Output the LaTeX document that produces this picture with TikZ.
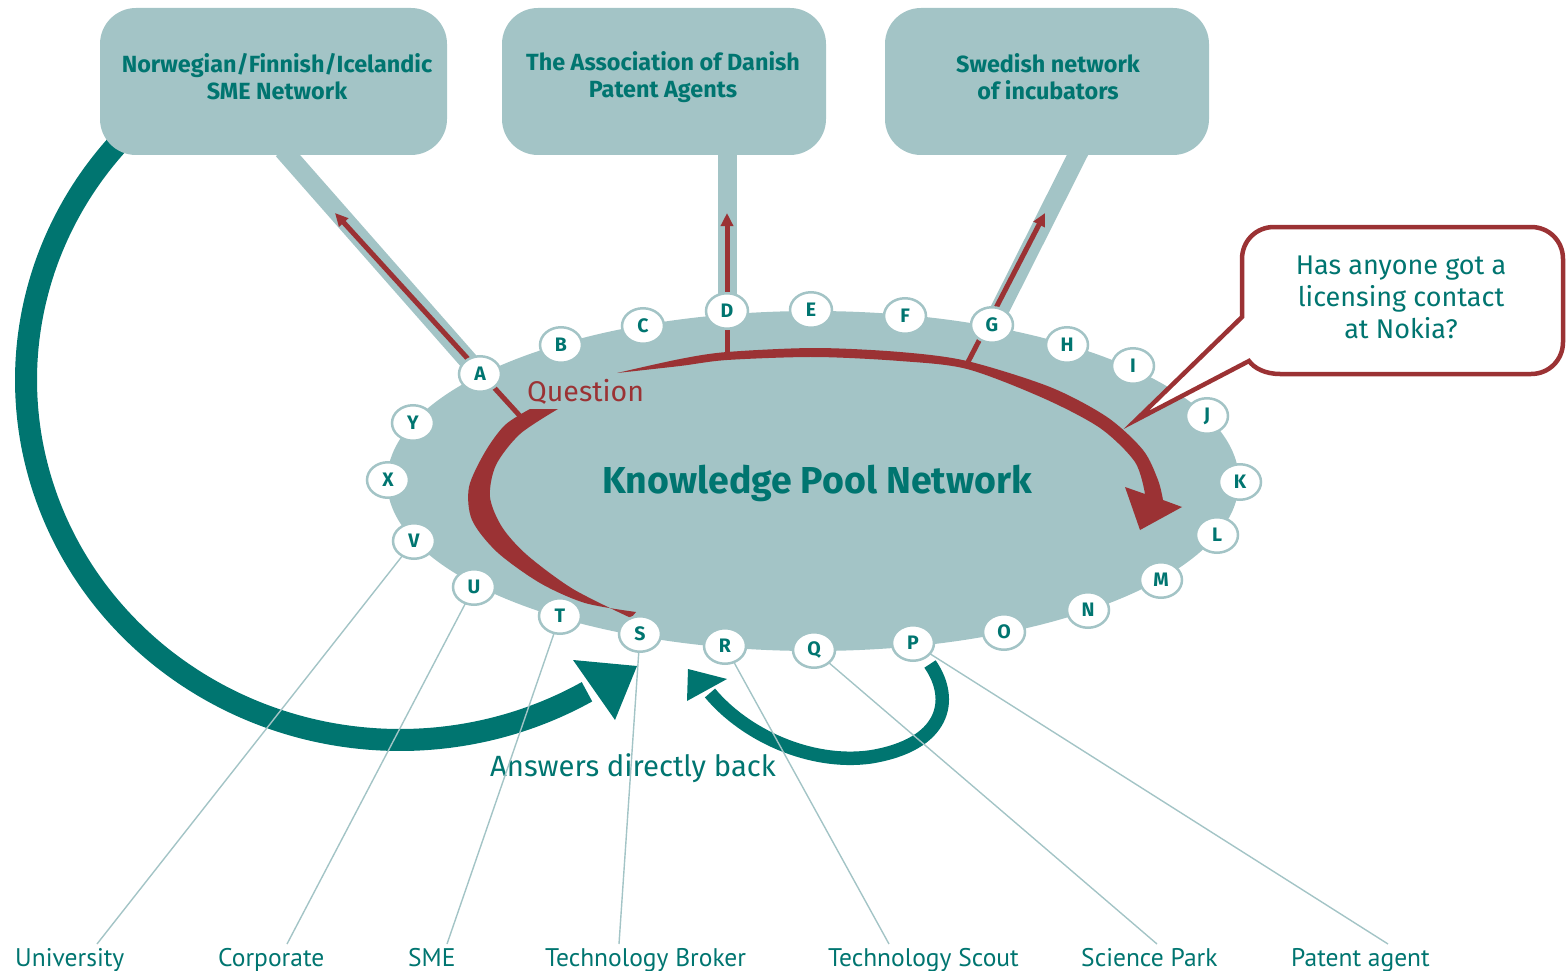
\documentclass[tikz,border=0pt]{standalone}
\usepackage{fontspec}
\setmainfont{Fira Sans}
\newfontfamily\rolefont{PT Sans}
\usetikzlibrary{shapes.geometric,arrows.meta}
\definecolor{kpteal}{RGB}{0,117,112}
\definecolor{kplight}{RGB}{163,196,198}
\definecolor{kpred}{RGB}{155,50,52}
\pgfdeclarelayer{back}
\pgfdeclarelayer{mid}
\pgfsetlayers{back,mid,main}
\begin{document}
\begin{tikzpicture}[x=1pt,y=-1pt,
  netbox/.style={fill=kplight, rounded corners=36pt, minimum width=#1, minimum height=147pt, inner sep=0pt},
  boxtext/.style={text=kpteal, font=\bfseries\fontsize{23.4}{27}\selectfont, align=center, inner sep=0pt},
  letter/.style={ellipse, draw=kplight, line width=2.5pt, fill=white, minimum width=42pt, minimum height=35.5pt,
    inner sep=0pt, text=kpteal, font=\bfseries\fontsize{19.5}{19.5}\selectfont},
  role/.style={anchor=base west, text=kpteal, font=\rolefont\fontsize{25.5}{25.5}\selectfont, inner sep=0pt},
  band/.style={draw=kplight, line width=19pt},
  redlink/.style={draw=kpred, line width=5pt, -{Triangle[length=13pt,width=12pt]}},
  leader/.style={draw=kplight, line width=1.4pt},
  bigtext/.style={anchor=west, inner sep=0pt},
]
\useasboundingbox (0,0) rectangle (1566,971);

% the three partner networks
\node[netbox=347pt] (box1) at (273.5,81.5) {};
\node[netbox=324pt] (box2) at (664,81.5) {};
\node[netbox=324pt] (box3) at (1047,81.5) {};
\node[boxtext] (t1) at (277,77) {Norwegian/Finnish/Icelandic\\SME Network};
\node[boxtext] (t2) at (663,77) {The Association of Danish\\Patent Agents};
\node[boxtext] (t3) at (1048,77) {Swedish network\\of incubators};

% members on the rim of the pool
\foreach \n/\x/\y in {A/480/374, B/561/345, C/643/326, D/727/311, E/811/310, F/905/316,
  G/992/325, H/1067/345, I/1133/366, J/1207/416, K/1240/482, L/1217/535, M/1161/580,
  N/1088/610, O/1004/632, P/913/643, Q/814/650, R/725/646, S/640/634, T/560/616,
  U/474/587, V/414/541, X/388/480, Y/413/423}
  \node[letter] (\n) at (\x,\y) {\n};

\node[text=kpteal, font=\bfseries\fontsize{37.5}{37.5}\selectfont] (kpn) at (817,483) {Knowledge Pool Network};
\node[bigtext, font=\fontsize{28.5}{28.5}\selectfont, text=kpred] (question) at (527,392) {Question};

% speech bubble
\draw[kpred, line width=4.5pt, fill=white]
  (1242,317) -- (1242,259) .. controls (1242,241) and (1256,227) .. (1274,227)
  -- (1531,227) .. controls (1549,227) and (1563,241) .. (1563,259)
  -- (1563,342) .. controls (1563,360) and (1549,374) .. (1531,374)
  -- (1280,374) .. controls (1265,374) and (1254,368) .. (1249,361)
  -- (1136,420) -- cycle;
\node[text=kpteal, font=\fontsize{27}{32}\selectfont, align=center] (ask) at (1401,297)
  {Has anyone got a\\licensing contact\\at Nokia?};

% member types
\node[role] (univ) at (15,966) {University};
\node[role] (corp) at (218,966) {Corporate};
\node[role] (sme) at (408,966) {SME};
\node[role] (broker) at (545,966) {Technology Broker};
\node[role] (scout) at (828,966) {Technology Scout};
\node[role] (park) at (1081,966) {Science Park};
\node[role] (patent) at (1291,966) {Patent agent};
\coordinate (eu) at (97,944);
\coordinate (ec) at (287,944);
\coordinate (es) at (447,944);
\coordinate (eb) at (619,944);
\coordinate (et) at (889,944);
\coordinate (ep) at (1157,944);
\coordinate (ea) at (1388,944);

\begin{pgfonlayer}{back}
  \fill[kplight] (813,481) ellipse[x radius=426, y radius=170];
  \coordinate (b1) at (283,150);
  \coordinate (b2) at (727,150);
  \coordinate (b3) at (1080,150);
  \draw[band] (b1) -- (A.center);
  \draw[band] (b2) -- (D.center);
  \draw[band] (b3) -- (G.center);
  % answer arc from the Nordic network back to the asking member
  \draw[kpteal, line width=22pt] plot[domain=226:60, samples=90, smooth]
    ({400+374*cos(\x)}, {380+360*sin(\x)});
\end{pgfonlayer}

\begin{pgfonlayer}{mid}
  % the question travelling round the pool
  \fill[kpred] (558,409) -- plot[smooth] coordinates {(530,409) (505,425) (485,452) (469,487) (472,520)
    (497,552) (540,583) (585,603) (636,612)}
    -- plot[smooth] coordinates {(631,618) (573,589) (527,555) (502,527) (490,497) (496,465) (520,434) (558,409)}
    -- cycle;
  \fill[kpred] plot[smooth] coordinates {(617,373) (680,359) (727,352) (815,348) (900,352) (967,361)
    (1050,387) (1107,417) (1143,450) (1158,480) (1163,500)}
    -- (1182,507) -- (1140,530) -- (1125,487) -- (1145,494)
    -- plot[smooth] coordinates {(1145,494) (1135,462) (1100,428) (1043,398) (967,369) (900,361) (815,357)
    (727,360) (680,366) (617,373)} -- cycle;
  \coordinate (qa) at (520,416);
  \coordinate (ta) at (335,213);
  \coordinate (qd) at (727,352);
  \coordinate (td) at (727,213);
  \coordinate (qg) at (968,362);
  \coordinate (tg) at (1045,213);
  \draw[redlink] (qa) -- (ta);
  \draw[redlink] (qd) -- (td);
  \draw[redlink] (qg) -- (tg);
  % answers coming straight back
  \fill[kpteal] (573,660) -- (637,666) -- (615,720) -- cycle;
  \draw[kpteal, line width=13.5pt] (930,664) .. controls (955,700) and (945,745) .. (870,757)
    .. controls (810,765) and (745,735) .. (710,693);
  \fill[kpteal] (688,669) -- (727,679) -- (687,701) -- cycle;
  \node[bigtext, font=\fontsize{29.3}{29.3}\selectfont, text=kpteal] (answers) at (490,768) {Answers directly back};
  \draw[leader] (V.center) -- (eu);
  \draw[leader] (U.center) -- (ec);
  \draw[leader] (T.center) -- (es);
  \draw[leader] (S.center) -- (eb);
  \draw[leader] (R.center) -- (et);
  \draw[leader] (Q.center) -- (ep);
  \draw[leader] (P.center) -- (ea);
\end{pgfonlayer}
\end{tikzpicture}
\end{document}
